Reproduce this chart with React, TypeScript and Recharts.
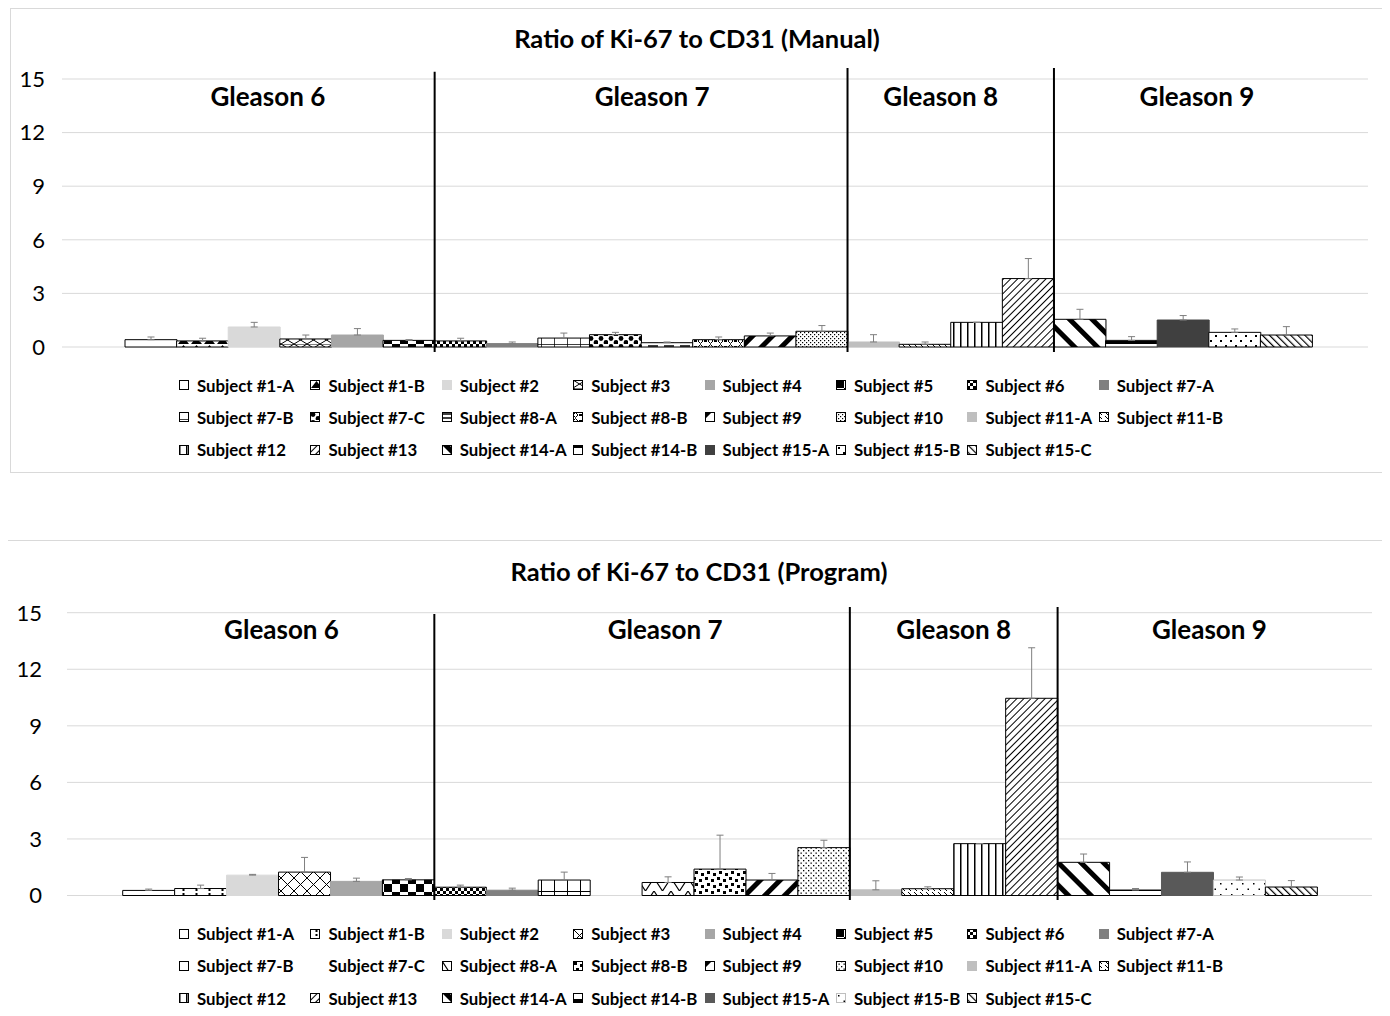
import React from 'react';
import { BarChart, Bar, XAxis, YAxis, CartesianGrid, ErrorBar, Cell, ReferenceLine, ReferenceArea } from 'recharts';

const subjects = [
  'Subject #1-A', 'Subject #1-B', 'Subject #2', 'Subject #3', 'Subject #4', 'Subject #5',
  'Subject #6', 'Subject #7-A', 'Subject #7-B', 'Subject #7-C', 'Subject #8-A', 'Subject #8-B',
  'Subject #9', 'Subject #10', 'Subject #11-A', 'Subject #11-B', 'Subject #12', 'Subject #13',
  'Subject #14-A', 'Subject #14-B', 'Subject #15-A', 'Subject #15-B', 'Subject #15-C',
];

const manualValues = [0.41, 0.34, 1.12, 0.45, 0.67, 0.37, 0.34, 0.19, 0.5, 0.69, 0.24, 0.41, 0.62, 0.88, 0.28, 0.15, 1.38, 3.83, 1.55, 0.37, 1.51, 0.82, 0.67];
const manualErrors = [0.15, 0.15, 0.26, 0.22, 0.36, 0.04, 0.15, 0.09, 0.28, 0.13, 0.04, 0.15, 0.16, 0.32, 0.41, 0.13, 0, 1.12, 0.56, 0.21, 0.25, 0.19, 0.47];

const programValues = [0.27, 0.37, 1.08, 1.24, 0.75, 0.83, 0.44, 0.28, 0.82, null, 0.69, 1.4, 0.82, 2.54, 0.3, 0.36, 2.75, 10.46, 1.76, 0.29, 1.23, 0.82, 0.45];
const programErrors = [0.07, 0.18, 0.04, 0.78, 0.17, 0.07, 0.11, 0.11, 0.42, null, 0.3, 1.8, 0.35, 0.39, 0.48, 0.1, 0, 2.68, 0.44, 0.08, 0.55, 0.16, 0.34];

const yTicks = [0, 3, 6, 9, 12, 15];
const gleasonLabels = ['Gleason 6', 'Gleason 7', 'Gleason 8', 'Gleason 9'];
const gleasonStart = [0, 6, 14, 18];
const gleasonEnd = [5, 13, 17, 22];

const FONT = 'Lato, "Open Sans", sans-serif';

// ---- styles (patterns) ----
type St = { fill: string; stroke: string; icon?: boolean };
const B = '#000';
const manualStyles: St[] = [
  { fill: '#fff', stroke: B },
  { fill: 'url(#m1)', stroke: B },
  { fill: '#d9d9d9', stroke: '#d9d9d9' },
  { fill: 'url(#m3)', stroke: B },
  { fill: '#a6a6a6', stroke: '#a6a6a6' },
  { fill: 'url(#m5)', stroke: B },
  { fill: 'url(#m6)', stroke: B },
  { fill: '#808080', stroke: '#808080' },
  { fill: 'url(#m8)', stroke: B },
  { fill: 'url(#m9)', stroke: B },
  { fill: 'url(#m10)', stroke: B },
  { fill: 'url(#m11)', stroke: B },
  { fill: 'url(#m12)', stroke: B },
  { fill: 'url(#m13)', stroke: B },
  { fill: '#bfbfbf', stroke: '#bfbfbf' },
  { fill: 'url(#m15)', stroke: B },
  { fill: 'url(#m16)', stroke: B },
  { fill: 'url(#m17)', stroke: B },
  { fill: 'url(#m18)', stroke: B },
  { fill: 'url(#m19)', stroke: B },
  { fill: '#404040', stroke: '#404040' },
  { fill: 'url(#m21)', stroke: B },
  { fill: 'url(#m22)', stroke: B },
];
const programStyles: St[] = [
  { fill: '#fff', stroke: B },
  { fill: 'url(#p1)', stroke: B },
  { fill: '#d9d9d9', stroke: '#d9d9d9' },
  { fill: 'url(#p3)', stroke: B },
  { fill: '#a6a6a6', stroke: '#a6a6a6' },
  { fill: 'url(#p5)', stroke: B },
  { fill: 'url(#p6)', stroke: B },
  { fill: '#808080', stroke: '#808080' },
  { fill: 'url(#p8)', stroke: B },
  { fill: 'none', stroke: 'none', icon: false },
  { fill: 'url(#p10)', stroke: B },
  { fill: 'url(#p11)', stroke: B },
  { fill: 'url(#p12)', stroke: B },
  { fill: 'url(#p13)', stroke: B },
  { fill: '#bfbfbf', stroke: '#bfbfbf' },
  { fill: 'url(#p15)', stroke: B },
  { fill: 'url(#p16)', stroke: B },
  { fill: 'url(#p17)', stroke: B },
  { fill: 'url(#p18)', stroke: B },
  { fill: 'url(#p19)', stroke: B },
  { fill: '#595959', stroke: '#595959' },
  { fill: 'url(#p21)', stroke: '#bfbfbf' },
  { fill: 'url(#p22)', stroke: B },
];

const Pat = ({ id, w, h, t, children }: any) => (
  <pattern id={id} patternUnits="userSpaceOnUse" width={w} height={h} patternTransform={t}>
    <rect width={w} height={h} fill="#fff" />
    {children}
  </pattern>
);

const Patterns = () => (
  <svg width={0} height={0} style={{ position: 'absolute' }}>
    <defs>
      {/* manual */}
      <Pat id="m1" w={13} h={8}><path d="M1,8 L6.5,1 L12,8 Z" fill={B} /></Pat>
      <Pat id="m3" w={13} h={8}><path d="M0,0 L13,8 M0,8 L13,0 M0,0 H13" stroke={B} strokeWidth={1} fill="none" /></Pat>
      <Pat id="m5" w={16} h={16}><rect x={0} y={0} width={8} height={8} fill={B} /><rect x={8} y={8} width={8} height={8} fill={B} /></Pat>
      <Pat id="m6" w={6} h={6}><rect x={0} y={0} width={3} height={3} fill={B} /><rect x={3} y={3} width={3} height={3} fill={B} /></Pat>
      <Pat id="m8" w={13} h={7}><path d="M0,0 H13 M0,0 V7" stroke={B} strokeWidth={1.5} /></Pat>
      <Pat id="m9" w={10} h={8}><circle cx={3} cy={2.5} r={2.4} fill={B} /><circle cx={8} cy={6.5} r={2.4} fill={B} /></Pat>
      <Pat id="m10" w={16} h={4}><path d="M0,2 H10" stroke={B} strokeWidth={1.5} /></Pat>
      <Pat id="m11" w={10} h={6}><path d="M0,3 L2.5,0.5 L5,3 L2.5,5.5 Z" stroke={B} strokeWidth={1} fill="none" /><rect x={6} y={2} width={3} height={2} fill={B} /></Pat>
      <Pat id="m12" w={14} h={14} t="rotate(45)"><rect x={0} y={0} width={5} height={14} fill={B} /></Pat>
      <Pat id="m13" w={4} h={4}><rect x={0} y={0} width={1.2} height={1.2} fill={B} /><rect x={2} y={2} width={1.2} height={1.2} fill={B} /></Pat>
      <Pat id="m15" w={6} h={4}><path d="M0,0 L3,3" stroke={B} strokeWidth={1} /></Pat>
      <Pat id="m16" w={7} h={7}><rect x={0} y={0} width={1.5} height={7} fill={B} /></Pat>
      <Pat id="m17" w={5} h={5} t="rotate(45)"><rect x={0} y={0} width={1} height={5} fill={B} /></Pat>
      <Pat id="m18" w={16} h={16} t="rotate(-45)"><rect x={0} y={0} width={5} height={16} fill={B} /></Pat>
      <Pat id="m19" w={8} h={9}><rect x={0} y={0} width={8} height={3} fill={B} /></Pat>
      <Pat id="m21" w={10} h={10}><rect x={2} y={2} width={2} height={2} fill={B} /><rect x={7} y={7} width={2} height={2} fill={B} /></Pat>
      <Pat id="m22" w={5} h={5} t="rotate(-45)"><rect x={0} y={0} width={1.2} height={5} fill={B} /></Pat>
      {/* program */}
      <Pat id="p1" w={13} h={8}><rect x={5.5} y={1} width={2} height={2} fill={B} /><rect x={5.5} y={5} width={2} height={2} fill={B} /></Pat>
      <Pat id="p3" w={13} h={13}><path d="M0,0 L13,13 M13,0 L0,13" stroke={B} strokeWidth={1} /></Pat>
      <Pat id="p5" w={16} h={16}><rect x={0} y={0} width={8} height={8} fill={B} /><rect x={8} y={8} width={8} height={8} fill={B} /></Pat>
      <Pat id="p6" w={6} h={6}><rect x={0} y={0} width={3} height={3} fill={B} /><rect x={3} y={3} width={3} height={3} fill={B} /></Pat>
      <Pat id="p8" w={13} h={13}><path d="M0,0 H13 M0,0 V13" stroke={B} strokeWidth={2} /></Pat>
      <Pat id="p10" w={17} h={13}><path d="M0,0 L8.5,13 L17,0" stroke={B} strokeWidth={1.2} fill="none" /></Pat>
      <Pat id="p11" w={12} h={12}><rect x={1} y={1} width={3} height={3} fill={B} /><rect x={7} y={3} width={3} height={3} fill={B} /><rect x={3} y={7} width={3} height={3} fill={B} /><rect x={9} y={9} width={3} height={3} fill={B} /></Pat>
      <Pat id="p12" w={14} h={14} t="rotate(45)"><rect x={0} y={0} width={5} height={14} fill={B} /></Pat>
      <Pat id="p13" w={5} h={5}><rect x={0} y={0} width={1.3} height={1.3} fill={B} /><rect x={2.5} y={2.5} width={1.3} height={1.3} fill={B} /></Pat>
      <Pat id="p15" w={6} h={4}><path d="M0,0 L3,3" stroke={B} strokeWidth={1} /></Pat>
      <Pat id="p16" w={7} h={7}><rect x={0} y={0} width={1.5} height={7} fill={B} /></Pat>
      <Pat id="p17" w={5} h={5} t="rotate(45)"><rect x={0} y={0} width={1} height={5} fill={B} /></Pat>
      <Pat id="p18" w={16} h={16} t="rotate(-45)"><rect x={0} y={0} width={5} height={16} fill={B} /></Pat>
      <Pat id="p19" w={8} h={9}><rect x={0} y={6} width={8} height={3} fill={B} /></Pat>
      <Pat id="p21" w={11} h={11}><rect x={2} y={2} width={1.5} height={1.5} fill={B} /><rect x={7.5} y={7.5} width={1.5} height={1.5} fill={B} /></Pat>
      <Pat id="p22" w={5} h={5} t="rotate(-45)"><rect x={0} y={0} width={1.2} height={5} fill={B} /></Pat>
    </defs>
  </svg>
);

type Cfg = {
  title: string;
  values: (number | null)[];
  errors: (number | null)[];
  styles: St[];
  box: { left: number; top: number; width: number; height: number };
  chart: { left: number; top: number; width: number; height: number; margin: any; yWidth: number; tickMargin: number; padL: number; padR: number };
  lineTop: number[];
  lineBottom: number;
  labelDx: number[];
  labelBaseline: number;
  titleY: number;
  titleX: number;
  legendTop: number;
};

const manualCfg: Cfg = {
  title: 'Ratio of Ki-67 to CD31 (Manual)',
  values: manualValues,
  errors: manualErrors,
  styles: manualStyles,
  box: { left: 10, top: 8, width: 1375, height: 465 },
  chart: { left: 8, top: 8, width: 1372, height: 360, margin: { top: 71, right: 12, bottom: 21, left: 0 }, yWidth: 54, tickMargin: 11, padL: 63, padR: 56 },
  lineTop: [15.4, 15.62, 15.62],
  lineBottom: -0.28,
  labelDx: [-12, 11, -10, 14],
  labelBaseline: 27,
  titleY: 38,
  titleX: 697,
  legendTop: 369,
};

const programCfg: Cfg = {
  title: 'Ratio of Ki-67 to CD31 (Program)',
  values: programValues,
  errors: programErrors,
  styles: programStyles,
  box: { left: 7, top: 540, width: 1395, height: 490 },
  chart: { left: 8, top: 540, width: 1375, height: 370, margin: { top: 72.7, right: 11, bottom: 14.5, left: 0 }, yWidth: 59, tickMargin: 19, padL: 55.7, padR: 54.7 },
  lineTop: [14.93, 15.3, 15.3],
  lineBottom: -0.24,
  labelDx: [3, 23, 0, 22],
  labelBaseline: 26.5,
  titleY: 571,
  titleX: 699,
  legendTop: 917.5,
};

const LegendIcon = ({ st }: { st: St }) => (
  <svg width={10} height={10} style={{ flex: 'none' }}>
    {st.icon === false ? null : (
      <rect x={0.5} y={0.5} width={9} height={9} fill={st.fill} stroke={st.stroke} strokeWidth={1} />
    )}
  </svg>
);

const Legend = ({ cfg }: { cfg: Cfg }) => (
  <div style={{ position: 'absolute', left: 179 - 8, top: cfg.legendTop - 8, width: 1100 }}>
    {subjects.map((s, i) => {
      const col = i % 8;
      const row = Math.floor(i / 8);
      return (
        <div
          key={s}
          style={{
            position: 'absolute',
            left: col * 131.4,
            top: row * 32.3,
            height: 32,
            display: 'flex',
            alignItems: 'center',
            whiteSpace: 'nowrap',
          }}
        >
          <LegendIcon st={cfg.styles[i]} />
          <span style={{ marginLeft: 8, fontFamily: FONT, fontWeight: 700, fontSize: 16.8, color: '#000' }}>{s}</span>
        </div>
      );
    })}
  </div>
);

const Panel = ({ cfg }: { cfg: Cfg }) => {
  const data = subjects.map((s, i) => ({
    name: s,
    value: cfg.values[i],
    err: cfg.errors[i] == null ? null : [0, cfg.errors[i] as number],
  }));
  const c = cfg.chart;
  return (
    <>
      <div
        style={{
          position: 'absolute',
          left: cfg.box.left - 8,
          top: cfg.box.top - 8,
          width: cfg.box.width,
          height: cfg.box.height,
          border: '1px solid #d9d9d9',
          boxSizing: 'border-box',
          background: '#fff',
        }}
      />
      <div
        style={{
          position: 'absolute',
          left: cfg.titleX - 8 - 400,
          width: 800,
          top: cfg.titleY - 8 - 15,
          height: 30,
          lineHeight: '30px',
          textAlign: 'center',
          fontFamily: FONT,
          fontWeight: 700,
          fontSize: 25.5,
          color: '#000',
        }}
      >
        {cfg.title}
      </div>
      <div style={{ position: 'absolute', left: c.left - 8, top: c.top - 8 }}>
        <BarChart width={c.width} height={c.height} data={data} margin={c.margin} barCategoryGap={0} barGap={0}>
          <CartesianGrid vertical={false} stroke="#d9d9d9" strokeWidth={1} />
          <XAxis dataKey="name" hide padding={{ left: c.padL, right: c.padR }} />
          <YAxis
            domain={[0, 15]}
            ticks={yTicks}
            width={c.yWidth}
            axisLine={false}
            tickLine={false}
            tickMargin={c.tickMargin}
            tick={{ fill: '#000', fontSize: 22, fontFamily: FONT }}
          />
          <Bar dataKey="value" isAnimationActive={false}>
            {data.map((d, i) => (
              <Cell key={d.name} fill={cfg.styles[i].fill} stroke={cfg.styles[i].stroke} strokeWidth={1} />
            ))}
            <ErrorBar dataKey="err" width={3.5} stroke="#7f7f7f" strokeWidth={1} direction="y" />
          </Bar>
          {gleasonStart.slice(1).map((gi, k) => (
            <ReferenceLine
              key={`l${gi}`}
              segment={[
                { x: subjects[gi], y: cfg.lineTop[k] },
                { x: subjects[gi], y: cfg.lineBottom },
              ]}
              position="start"
              ifOverflow="visible"
              stroke="#000"
              strokeWidth={2}
            />
          ))}
          {gleasonLabels.map((g, k) => (
            <ReferenceArea
              key={g}
              x1={subjects[gleasonStart[k]]}
              x2={subjects[gleasonEnd[k]]}
              fill="none"
              fillOpacity={0}
              stroke="none"
              ifOverflow="visible"
              label={{
                content: (p: any) => {
                  const vb = p.viewBox || {};
                  return (
                    <text
                      x={vb.x + vb.width / 2 + cfg.labelDx[k]}
                      y={vb.y + cfg.labelBaseline}
                      textAnchor="middle"
                      fontFamily={FONT}
                      fontWeight={700}
                      fontSize={26}
                      fill="#000"
                    >
                      {g}
                    </text>
                  );
                },
              }}
            />
          ))}
        </BarChart>
      </div>
      <Legend cfg={cfg} />
    </>
  );
};

export default function App() {
  return (
    <div style={{ position: 'relative', width: 1382, height: 1008, overflow: 'hidden' }}>
      <Patterns />
      <Panel cfg={manualCfg} />
      <Panel cfg={programCfg} />
    </div>
  );
}
